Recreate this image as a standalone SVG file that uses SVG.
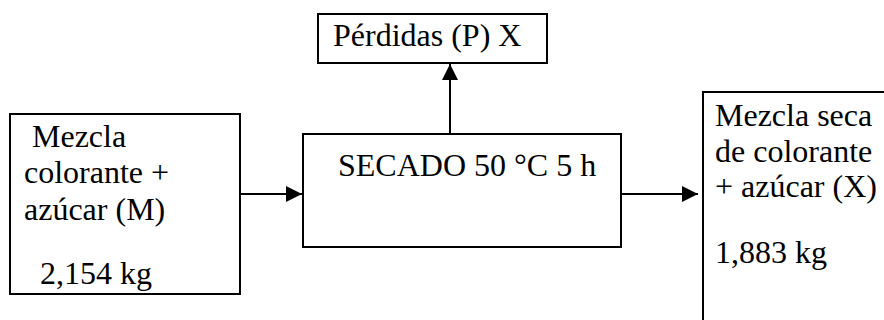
<svg xmlns="http://www.w3.org/2000/svg" width="884" height="320" viewBox="0 0 884 320">
<defs>
<style>
.box{fill:#fff;stroke:#000;stroke-width:2}
.t{font-family:"Liberation Serif","Times New Roman",serif;font-size:32px;fill:#000}
.c{stroke:#000;stroke-width:2;fill:none}
</style>
<marker id="ah" markerUnits="userSpaceOnUse" markerWidth="16" markerHeight="16" viewBox="0 0 16 16" refX="16" refY="8" orient="auto">
<path d="M0,0 L16,8 L0,16 Z" fill="#000"/>
</marker>
</defs>
<rect width="884" height="320" fill="#fff"/>
<g id="connectors">
<line class="c" x1="240" y1="194" x2="302" y2="194" marker-end="url(#ah)"/>
<line class="c" x1="450" y1="134" x2="450" y2="64" marker-end="url(#ah)"/>
<line class="c" x1="621" y1="194" x2="698" y2="194" marker-end="url(#ah)"/>
</g>
<g id="mezcla">
<rect class="box" x="10" y="114" width="230" height="180"/>
<text class="t" x="32" y="147">Mezcla</text>
<text class="t" x="24" y="183">colorante +</text>
<text class="t" x="24" y="220">azúcar (M)</text>
<text class="t" x="40" y="284">2,154 kg</text>
</g>
<g id="secado">
<rect class="box" x="303" y="134" width="318" height="113"/>
<text class="t" x="338" y="176">SECADO 50 °C 5 h</text>
</g>
<g id="perdidas">
<rect class="box" x="318" y="14" width="229" height="49"/>
<text class="t" x="333" y="46">Pérdidas (P) X</text>
</g>
<g id="mezcla-seca">
<rect class="box" x="703" y="92" width="200" height="250"/>
<text class="t" x="715" y="126">Mezcla seca</text>
<text class="t" x="715" y="162">de colorante</text>
<text class="t" x="715" y="197">+ azúcar (X)</text>
<text class="t" x="715" y="263">1,883 kg</text>
</g>
</svg>
